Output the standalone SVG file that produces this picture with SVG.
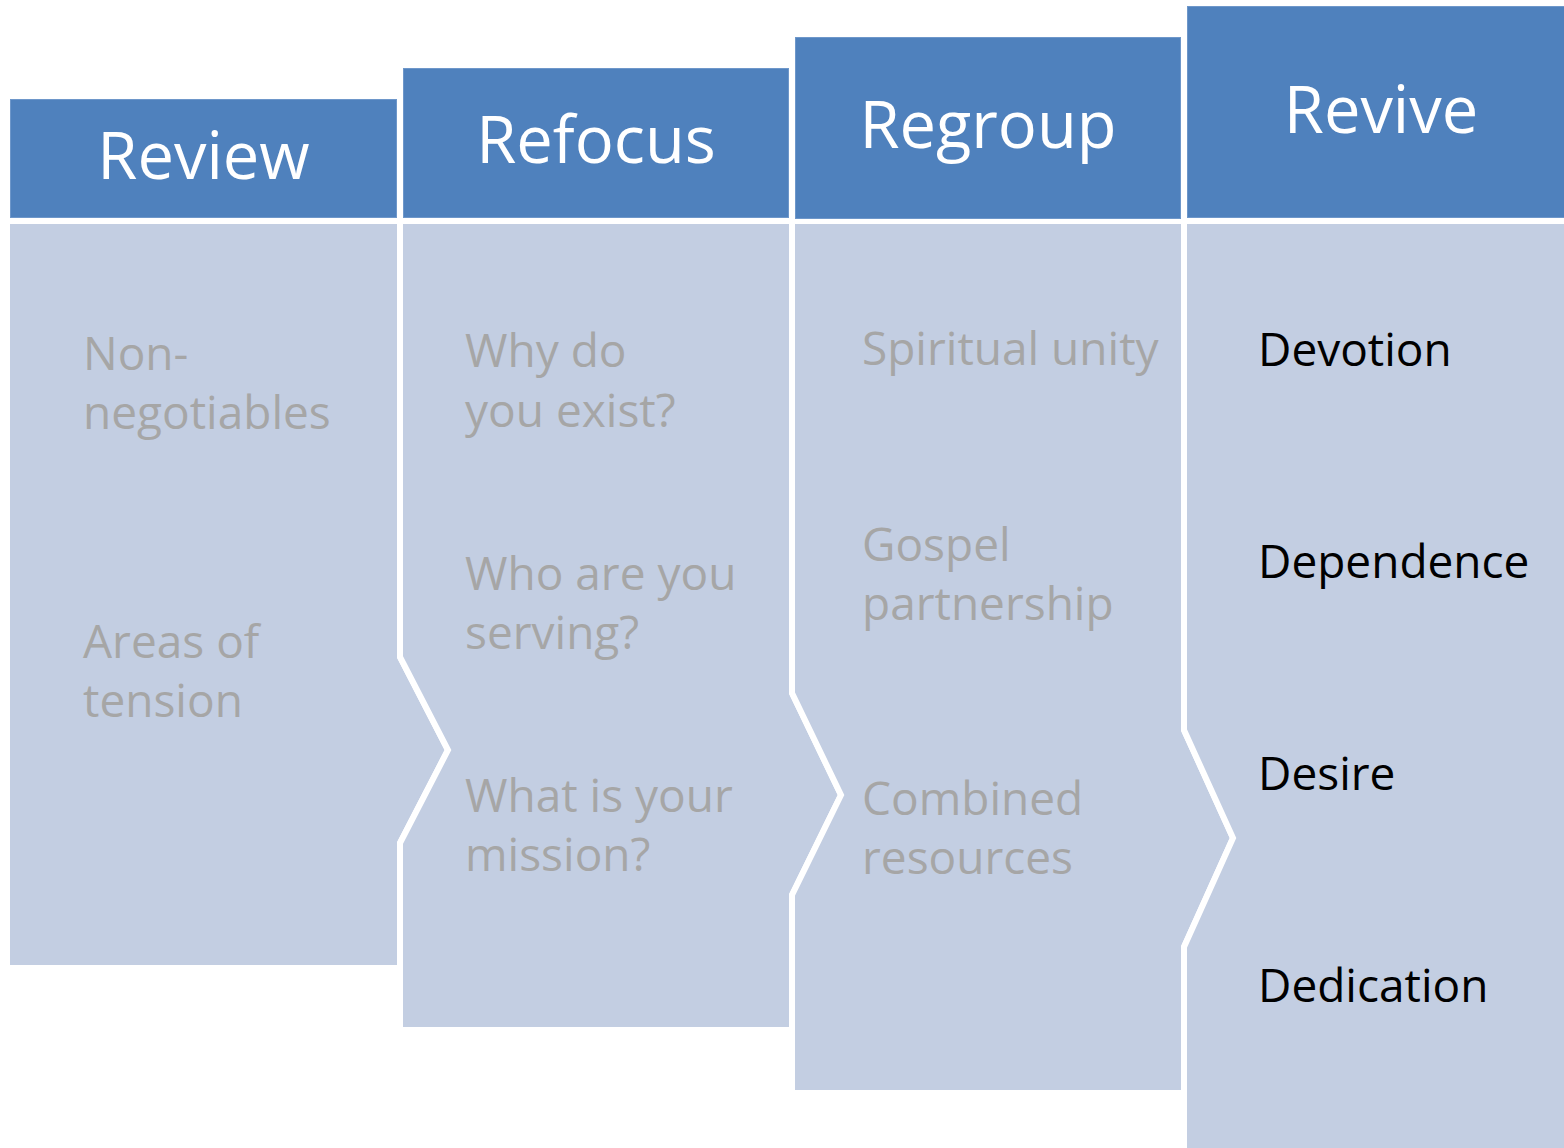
<svg xmlns="http://www.w3.org/2000/svg" width="1564" height="1148" viewBox="0 0 1564 1148">
<style>
.hdr{fill:#4F81BD;stroke:#6E97CA;stroke-width:1}
.body{fill:#C3CEE2;stroke:#FFFFFF;stroke-width:6;stroke-linejoin:miter}
.ht{font-family:"Open Sans","Noto Sans",sans-serif;font-size:65px;fill:#FFFFFF;text-anchor:middle}
.bt{font-family:"Open Sans","Noto Sans",sans-serif;font-size:46px;fill:#A6A6A6}
.bk{fill:#000000}
</style>
<rect x="0" y="0" width="1564" height="1148" fill="#FFFFFF"/>
<g id="review">
<path class="body" d="M7,221 H400 V657 L448,750 L400,843 V968 H7 Z"/>
<rect class="hdr" x="10.5" y="99.5" width="386" height="118"/>
<text class="ht" x="203.5" y="179">Review</text>
<text class="bt" x="83" y="370">Non-</text>
<text class="bt" x="83" y="429">negotiables</text>
<text class="bt" x="83" y="658">Areas of</text>
<text class="bt" x="83" y="717">tension</text>
</g>
<g id="refocus">
<path class="body" d="M400,221 H792 V693 L841,795 L792,895 V1030 H400 V843 L448,750 L400,657 Z"/>
<rect class="hdr" x="403.5" y="68.5" width="385" height="149"/>
<text class="ht" x="596" y="163">Refocus</text>
<text class="bt" x="465" y="367">Why do</text>
<text class="bt" x="465" y="427">you exist?</text>
<text class="bt" x="465" y="590">Who are you</text>
<text class="bt" x="465" y="649">serving?</text>
<text class="bt" x="465" y="812">What is your</text>
<text class="bt" x="465" y="871">mission?</text>
</g>
<g id="regroup">
<path class="body" d="M792,221 H1184 V730 L1233,838 L1184,947 V1093 H792 V895 L841,795 L792,693 Z"/>
<rect class="hdr" x="795.5" y="37.5" width="385" height="181"/>
<text class="ht" x="988" y="148">Regroup</text>
<text class="bt" x="862" y="365">Spiritual unity</text>
<text class="bt" x="862" y="561">Gospel</text>
<text class="bt" x="862" y="620">partnership</text>
<text class="bt" x="862" y="815">Combined</text>
<text class="bt" x="862" y="874">resources</text>
</g>
<g id="revive">
<path class="body" d="M1184,221 H1572 V1160 H1184 V947 L1233,838 L1184,730 Z"/>
<rect class="hdr" x="1187.5" y="6.5" width="384" height="211"/>
<text class="ht" x="1381" y="133">Revive</text>
<text class="bt bk" x="1258" y="366">Devotion</text>
<text class="bt bk" x="1258" y="578">Dependence</text>
<text class="bt bk" x="1258" y="790">Desire</text>
<text class="bt bk" x="1258" y="1002">Dedication</text>
</g>
<g id="connectors"></g>
</svg>
